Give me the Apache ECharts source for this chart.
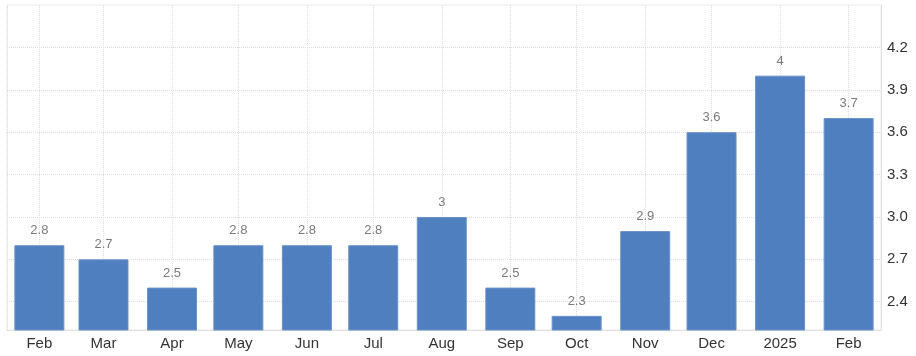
<!DOCTYPE html>
<html>
<head>
<meta charset="utf-8">
<script src="https://cdn.jsdelivr.net/npm/echarts@6/dist/echarts.min.js"></script>
<style>html,body{margin:0;padding:0;background:#fff}#c{width:916px;height:356px}</style>
</head>
<body>
<div id="c"></div>
<script>
const months = ['2024-02-01','2024-03-01','2024-04-01','2024-05-01','2024-06-01','2024-07-01','2024-08-01','2024-09-01','2024-10-01','2024-11-01','2024-12-01','2025-01-01','2025-02-01'];
const values = [2.8, 2.7, 2.5, 2.8, 2.8, 2.8, 3, 2.5, 2.3, 2.9, 3.6, 4, 3.7];
const monthNames = ['Jan','Feb','Mar','Apr','May','Jun','Jul','Aug','Sep','Oct','Nov','Dec'];
const yTicks = [2.4, 2.7, 3.0, 3.3, 3.6, 3.9, 4.2];

const chart = echarts.init(document.getElementById('c'));
chart.setOption({
  animation: false,
  grid: {left: 7, right: 35, top: 5, bottom: 26, show: true, borderColor: '#ececec', borderWidth: 1},
  xAxis: {
    type: 'time',
    min: '2024-01-28 16:00:00',
    max: '2025-02-04 08:00:00',
    splitNumber: 13,
    minInterval: 28 * 864e5,
    maxInterval: 31 * 864e5,
    axisLine: {show: true, lineStyle: {color: '#e0e0e0'}},
    axisTick: {show: false},
    splitLine: {show: true, lineStyle: {type: 'dotted', color: '#dddddd'}},
    axisLabel: {
      fontFamily: 'Liberation Sans, Arial, sans-serif', fontSize: 15, color: '#333', margin: 6,
      formatter: function (v) { const d = new Date(v); return d.getMonth() === 0 ? String(d.getFullYear()) : monthNames[d.getMonth()]; }
    }
  },
  yAxis: {
    type: 'value',
    position: 'right',
    min: 2.2,
    max: 4.5,
    axisLine: {show: true, lineStyle: {color: '#e0e0e0'}},
    axisTick: {show: false, customValues: yTicks},
    splitLine: {show: true, lineStyle: {type: 'dotted', color: '#dddddd'}},
    axisLabel: {customValues: yTicks, fontFamily: 'Liberation Sans, Arial, sans-serif', fontSize: 15, color: '#333', margin: 6,
      formatter: function (v) { return v.toFixed(1); }}
  },
  series: [{
    type: 'bar',
    data: months.map((m, i) => [m, values[i]]),
    barWidth: 50,
    itemStyle: {color: '#4f7fbf', borderColor: '#6a93c8', borderWidth: 1},
    label: {show: true, position: 'top', distance: 8, fontFamily: 'Liberation Sans, Arial, sans-serif', fontSize: 13, color: '#7a7a7a'}
  }]
});
</script>
</body>
</html>
